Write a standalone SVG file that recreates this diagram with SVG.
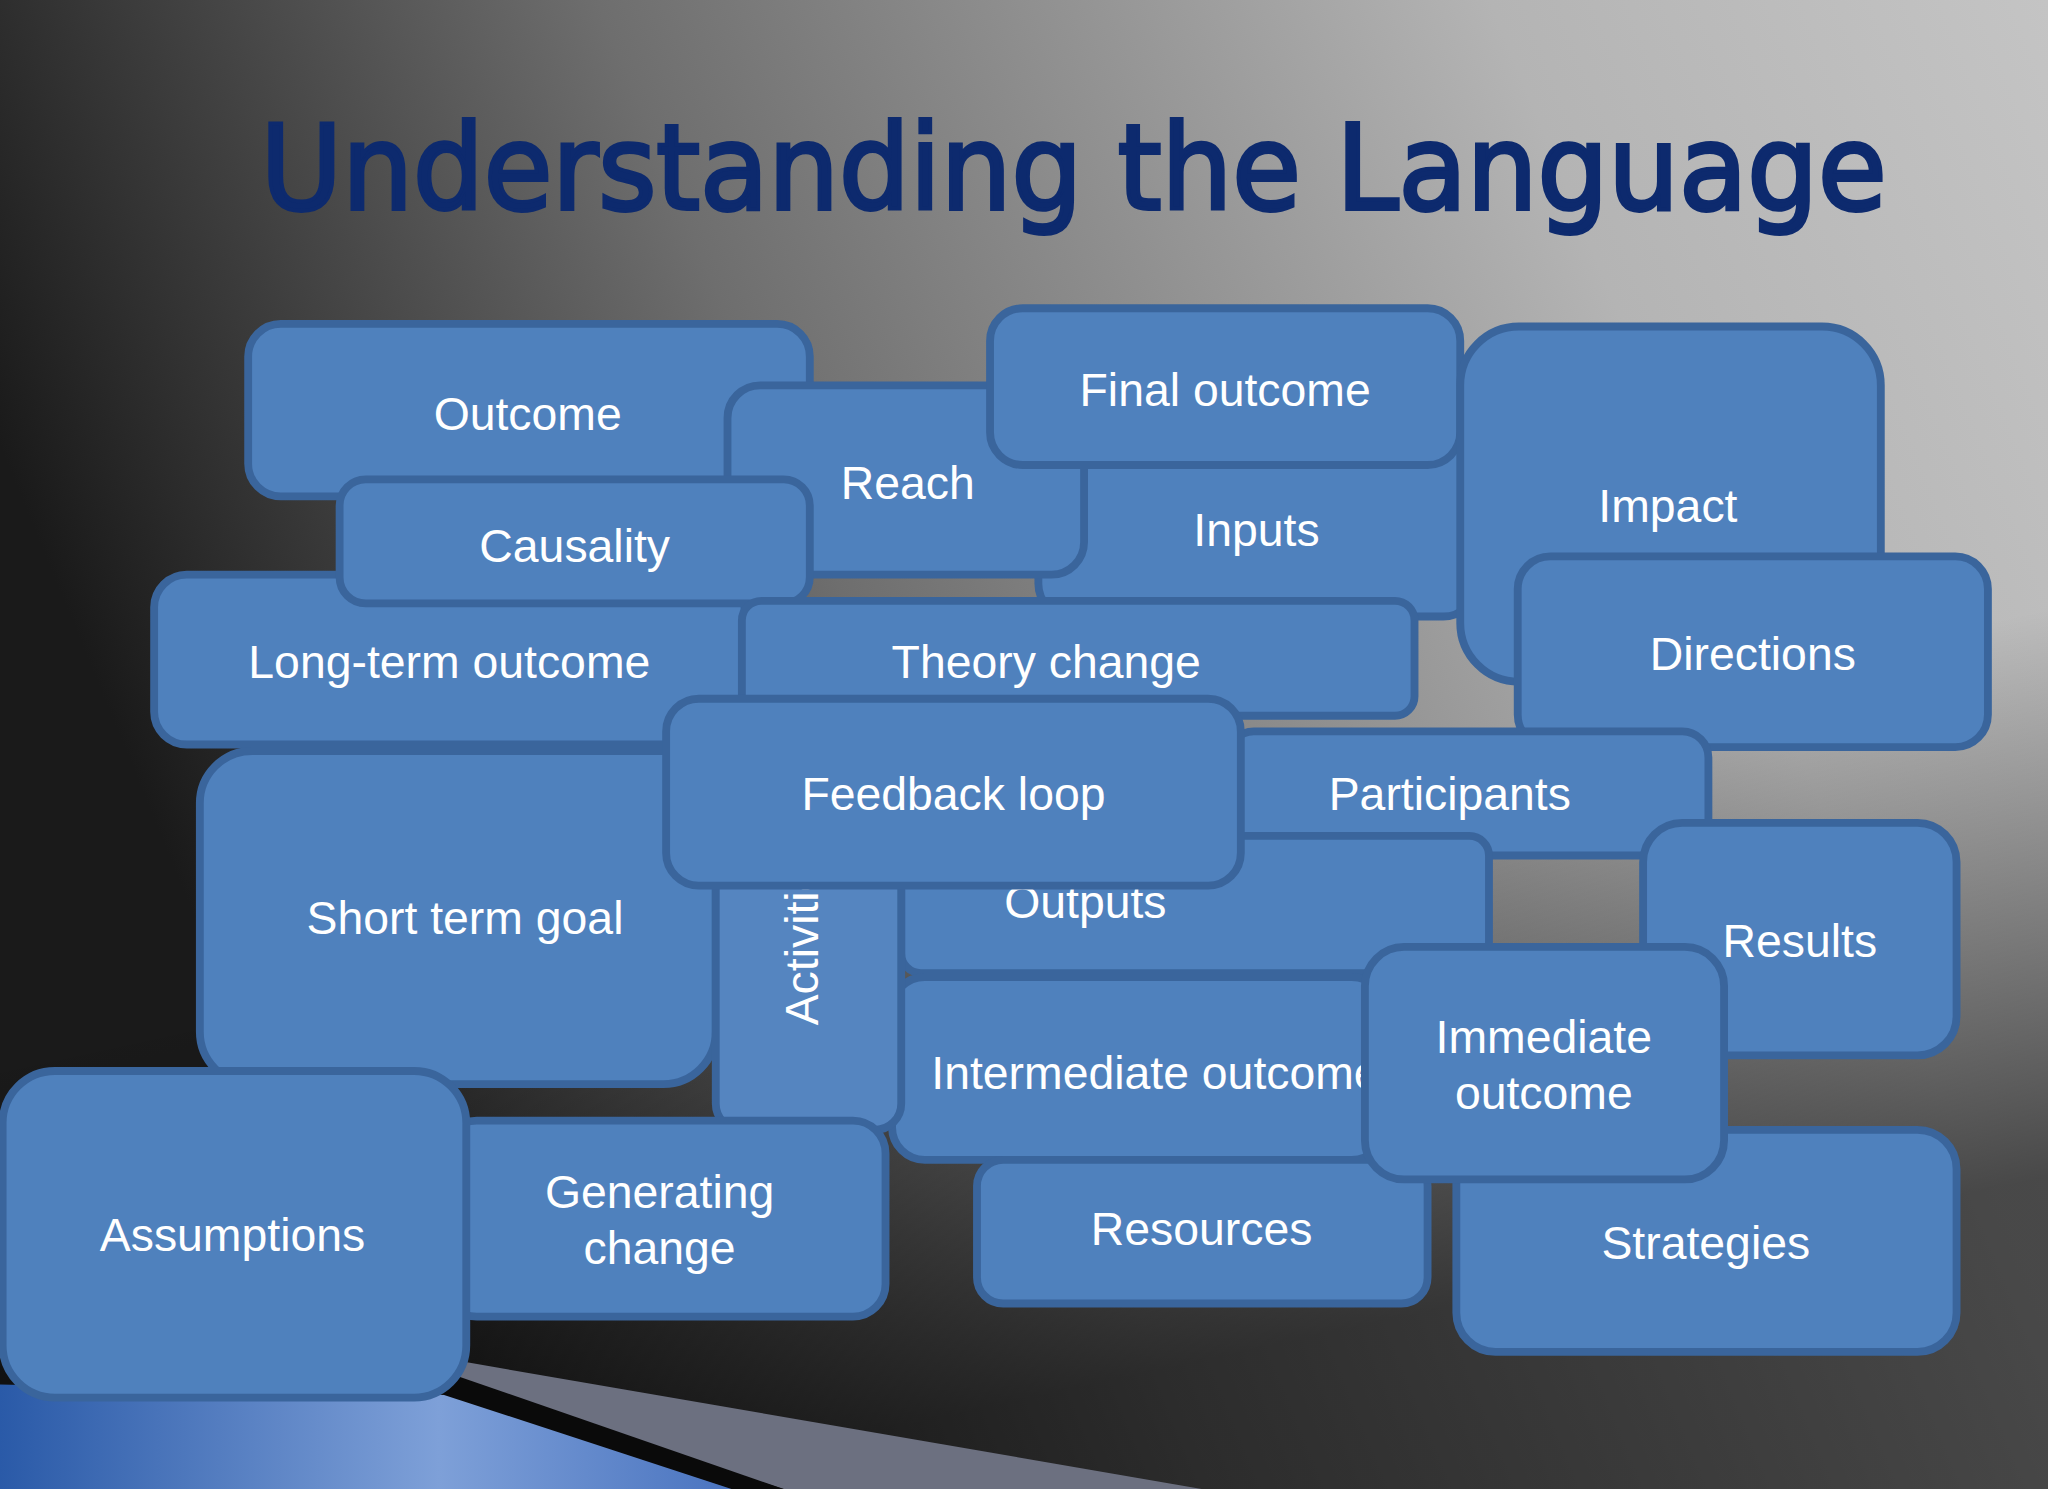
<svg xmlns="http://www.w3.org/2000/svg" width="2048" height="1489" viewBox="0 0 2048 1489">
<defs>
<linearGradient id="bg" x1="0" y1="0.3" x2="1" y2="0">
<stop offset="0" stop-color="#1a1a1a"/>
<stop offset="0.35" stop-color="#6e6e6e"/>
<stop offset="0.75" stop-color="#b4b4b4"/>
<stop offset="1" stop-color="#c4c4c4"/>
</linearGradient>
<linearGradient id="shade" x1="0" y1="0" x2="0.3" y2="1">
<stop offset="0" stop-color="#000" stop-opacity="0"/>
<stop offset="0.65" stop-color="#000" stop-opacity="0"/>
<stop offset="1" stop-color="#000" stop-opacity="0.6"/>
</linearGradient>
<linearGradient id="blue" x1="0" y1="0" x2="1" y2="0">
<stop offset="0" stop-color="#2a5aa8"/>
<stop offset="0.6" stop-color="#7ea0d8"/>
<stop offset="1" stop-color="#4a74c0"/>
</linearGradient>
<style>
.b{fill:#4f81bd;stroke:#3a659c;stroke-width:6}
.t{fill:#fff;font-family:"Liberation Sans",Arial,sans-serif;font-size:35.5px;text-anchor:middle}
</style>
</defs>
<rect width="2048" height="1489" fill="url(#bg)"/>
<rect width="2048" height="1489" fill="url(#shade)"/>
<g transform="scale(1.30612)">
<polygon points="340,1040 920,1140 600,1140 340,1060" fill="#6c7080"/>
<polygon points="340,1050 600,1140 560,1140 340,1070" fill="#0a0a0a"/>
<polygon points="0,1060 340,1068 560,1140 0,1140" fill="url(#blue)"/>
<text x="822" y="160" font-family="DejaVu Sans,Verdana,sans-serif" font-size="90" fill="#0d2a6e" text-anchor="middle" textLength="1245" lengthAdjust="spacingAndGlyphs" stroke="#0d2a6e" stroke-width="3">Understanding the Language</text>
<g id="outcome"><rect class="b" x="190" y="248" width="430" height="132" rx="25"/><text class="t" x="404" y="329">Outcome</text></g>
<g id="inputs"><rect class="b" x="795" y="335" width="335" height="137" rx="25"/><text class="t" x="962" y="418">Inputs</text></g>
<g id="reach"><rect class="b" x="557" y="295" width="273" height="145" rx="25"/><text class="t" x="695" y="382">Reach</text></g>
<g id="final-outcome"><rect class="b" x="758" y="236" width="360" height="120" rx="25"/><text class="t" x="938" y="311">Final outcome</text></g>
<g id="impact"><rect class="b" x="1118" y="250" width="322" height="272" rx="45"/><text class="t" x="1277" y="400">Impact</text></g>
<g id="long-term"><rect class="b" x="118" y="440" width="452" height="130" rx="25"/><text class="t" x="344" y="519">Long-term outcome</text></g>
<g id="causality"><rect class="b" x="260" y="367" width="360" height="95" rx="20"/><text class="t" x="440" y="430">Causality</text></g>
<g id="theory-change"><rect class="b" x="568" y="460" width="515" height="88" rx="15"/><text class="t" x="801" y="519">Theory change</text></g>
<g id="directions"><rect class="b" x="1162" y="426" width="360" height="146" rx="25"/><text class="t" x="1342" y="513">Directions</text></g>
<g id="short-term"><rect class="b" x="153" y="575" width="395" height="255" rx="40"/><text class="t" x="356" y="715">Short term goal</text></g>
<g id="participants"><rect class="b" x="940" y="560" width="368" height="95" rx="20"/><text class="t" x="1110" y="620">Participants</text></g>
<g id="results"><rect class="b" x="1258" y="630" width="240" height="178" rx="30"/><text class="t" x="1378" y="733">Results</text></g>
<g id="outputs"><rect class="b" x="690" y="640" width="450" height="105" rx="15"/><text class="t" x="831" y="703">Outputs</text></g>
<g id="intermediate"><rect class="b" x="683" y="748" width="377" height="140" rx="25"/><text class="t" x="713" y="834" style="text-anchor:start">Intermediate outcome</text></g>
<g id="activities"><rect class="b" x="548" y="650" width="142" height="215" rx="20" style="fill:#5585c0"/><text class="t" transform="translate(626,785) rotate(-90)" style="text-anchor:start">Activities</text></g>
<g id="feedback-loop"><rect class="b" x="510" y="535" width="440" height="143" rx="25"/><text class="t" x="730" y="620">Feedback loop</text></g>
<g id="strategies"><rect class="b" x="1115" y="865" width="383" height="170" rx="30"/><text class="t" x="1306" y="964">Strategies</text></g>
<g id="resources"><rect class="b" x="748" y="888" width="345" height="110" rx="20"/><text class="t" x="920" y="953">Resources</text></g>
<g id="immediate"><rect class="b" x="1045" y="725" width="275" height="178" rx="30"/><text class="t" x="1182" y="806">Immediate</text><text class="t" x="1182" y="849">outcome</text></g>
<g id="generating"><rect class="b" x="340" y="858" width="338" height="150" rx="25"/><text class="t" x="505" y="925">Generating</text><text class="t" x="505" y="968">change</text></g>
<g id="assumptions"><rect class="b" x="2" y="820" width="355" height="250" rx="40"/><text class="t" x="178" y="958">Assumptions</text></g>
</g>
</svg>
